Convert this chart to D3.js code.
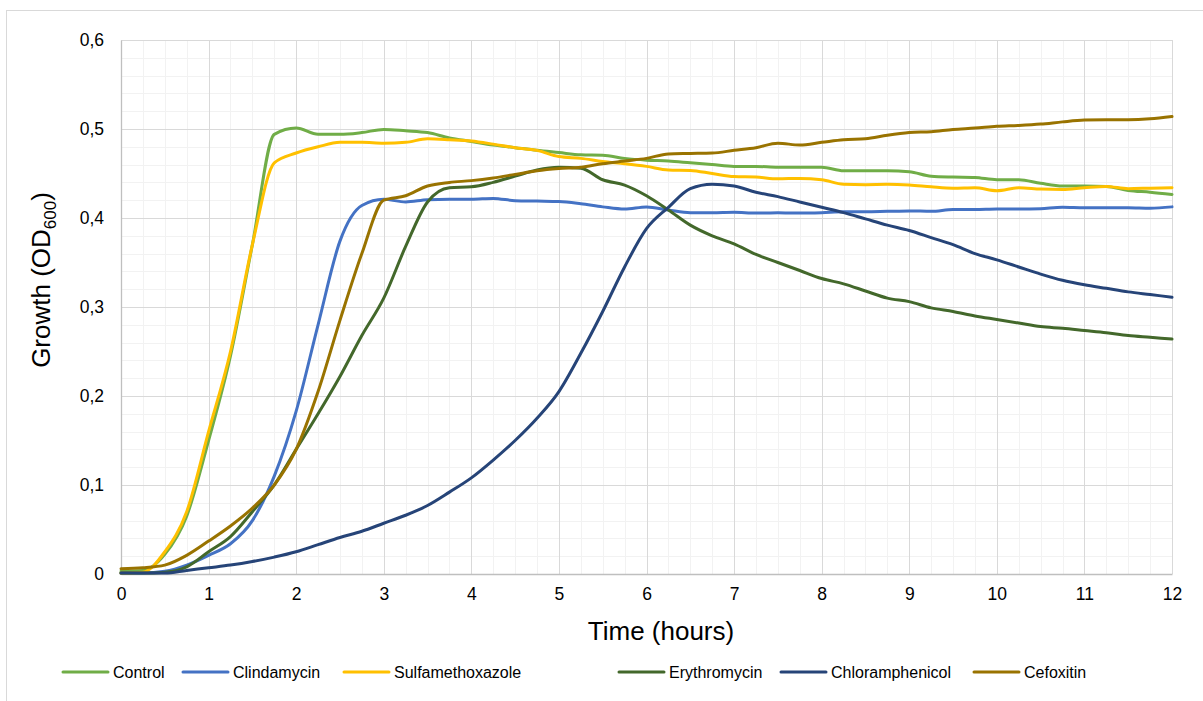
<!DOCTYPE html>
<html>
<head>
<meta charset="utf-8">
<script src="https://cdn.jsdelivr.net/npm/d3@7"></script>
<style>
  html, body { margin: 0; padding: 0; background: #fff; }
  svg { display: block; font-family: "Liberation Sans", Arial, sans-serif; }
</style>
</head>
<body>
<svg id="chart" width="1203" height="701"></svg>
<script>
// Sampling times (hours)
const timeHours = [0, 0.25, 0.5, 0.75, 1, 1.25, 1.5, 1.75, 2, 2.25, 2.5, 2.75, 3, 3.25, 3.5, 3.75,
  4, 4.25, 4.5, 4.75, 5, 5.25, 5.5, 5.75, 6, 6.25, 6.5, 6.75, 7, 7.25, 7.5, 7.75,
  8, 8.25, 8.5, 8.75, 9, 9.25, 9.5, 9.75, 10, 10.25, 10.5, 10.75, 11, 11.25, 11.5, 11.75, 12];

// OD600 readings per treatment
const control = [0.003, 0.004, 0.022, 0.065, 0.15, 0.245, 0.37, 0.494, 0.501, 0.494, 0.494, 0.496, 0.4995, 0.498, 0.496, 0.49,
  0.486, 0.482, 0.479, 0.476, 0.4735, 0.471, 0.4705, 0.467, 0.465, 0.464, 0.462, 0.46, 0.458, 0.458, 0.457, 0.457,
  0.457, 0.453, 0.453, 0.453, 0.452, 0.447, 0.446, 0.4455, 0.443, 0.443, 0.439, 0.436, 0.436, 0.4355, 0.431, 0.429, 0.4265];
const clindamycin = [0.001, 0.001, 0.003, 0.01, 0.021, 0.034, 0.06, 0.11, 0.183, 0.28, 0.374, 0.414, 0.421, 0.418, 0.4205, 0.421,
  0.421, 0.422, 0.4195, 0.419, 0.4185, 0.416, 0.4125, 0.41, 0.4125, 0.409, 0.406, 0.406, 0.4065, 0.4055, 0.406, 0.4055,
  0.406, 0.407, 0.407, 0.4075, 0.408, 0.4075, 0.4095, 0.4095, 0.41, 0.41, 0.4105, 0.412, 0.4115, 0.4115, 0.4115, 0.411, 0.4125];
const sulfamethoxazole = [0.001, 0.002, 0.025, 0.07, 0.16, 0.25, 0.37, 0.462, 0.473, 0.48, 0.485, 0.485, 0.484, 0.485, 0.489, 0.488,
  0.4865, 0.483, 0.479, 0.476, 0.469, 0.467, 0.4635, 0.461, 0.458, 0.454, 0.4535, 0.45, 0.4465, 0.446, 0.444, 0.4445,
  0.443, 0.438, 0.4375, 0.4378, 0.437, 0.435, 0.4335, 0.434, 0.4307, 0.434, 0.4325, 0.432, 0.434, 0.4355, 0.433, 0.4335, 0.434];
const erythromycin = [0.001, 0.001, 0.002, 0.008, 0.025, 0.042, 0.07, 0.1, 0.14, 0.18, 0.222, 0.268, 0.31, 0.368, 0.418, 0.434,
  0.435, 0.44, 0.447, 0.454, 0.457, 0.456, 0.443, 0.437, 0.425, 0.409, 0.392, 0.38, 0.371, 0.359, 0.35, 0.341,
  0.332, 0.326, 0.318, 0.31, 0.306, 0.299, 0.295, 0.29, 0.286, 0.282, 0.278, 0.276, 0.2735, 0.271, 0.268, 0.266, 0.264];
const chloramphenicol = [0.001, 0.001, 0.001, 0.004, 0.007, 0.01, 0.014, 0.019, 0.025, 0.033, 0.041, 0.048, 0.057, 0.066, 0.077, 0.092,
  0.108, 0.128, 0.15, 0.175, 0.205, 0.248, 0.295, 0.345, 0.388, 0.412, 0.433, 0.438, 0.436, 0.429, 0.424, 0.418,
  0.412, 0.406, 0.399, 0.392, 0.386, 0.378, 0.37, 0.36, 0.353, 0.345, 0.337, 0.33, 0.325, 0.321, 0.317, 0.314, 0.311];
const cefoxitin = [0.006, 0.007, 0.01, 0.021, 0.037, 0.054, 0.074, 0.1, 0.14, 0.205, 0.285, 0.36, 0.42, 0.425, 0.436, 0.44,
  0.442, 0.445, 0.449, 0.453, 0.4555, 0.457, 0.461, 0.464, 0.467, 0.472, 0.4725, 0.473, 0.476, 0.479, 0.484, 0.482,
  0.485, 0.488, 0.489, 0.493, 0.496, 0.497, 0.4995, 0.501, 0.503, 0.504, 0.5055, 0.508, 0.51, 0.5105, 0.5105, 0.5115, 0.514];

const seriesNames = ["Control", "Clindamycin", "Sulfamethoxazole", "Erythromycin", "Chloramphenicol", "Cefoxitin"];
const seriesValues = [control, clindamycin, sulfamethoxazole, erythromycin, chloramphenicol, cefoxitin];
const seriesColors = ["#70AD47", "#4472C4", "#FFC000", "#43682B", "#264478", "#997300"];

const xTicks = [0, 1, 2, 3, 4, 5, 6, 7, 8, 9, 10, 11, 12];
const yTicks = [0, 0.1, 0.2, 0.3, 0.4, 0.5, 0.6];

const svg = d3.select("#chart");
const plot = { left: 121, right: 1172, top: 40, bottom: 574 };

const x = d3.scaleLinear().domain([0, 12]).range([plot.left, plot.right]);
const y = d3.scaleLinear().domain([0, 0.6]).range([plot.bottom, plot.top]);

// Chart frame
svg.append("rect")
  .attr("x", 6.5).attr("y", 10.5).attr("width", 1210).attr("height", 710)
  .attr("fill", "#fff").attr("stroke", "#D9D9D9").attr("stroke-width", 1);

const grid = svg.append("g");
// Minor gridlines: every 0.25 h and every 0.02 OD
const minorX = d3.range(0, 12.001, 0.25).filter(v => Math.abs(v - Math.round(v)) > 1e-6);
const minorY = d3.range(0, 0.6001, 0.02).filter(v => Math.abs(v * 10 - Math.round(v * 10)) > 1e-6);
grid.selectAll(".mx").data(minorX).enter().append("line")
  .attr("x1", d => Math.round(x(d)) + 0.5).attr("x2", d => Math.round(x(d)) + 0.5)
  .attr("y1", plot.top).attr("y2", plot.bottom)
  .attr("stroke", "#F2F2F2").attr("stroke-width", 1);
grid.selectAll(".my").data(minorY).enter().append("line")
  .attr("x1", plot.left).attr("x2", plot.right)
  .attr("y1", d => Math.round(y(d)) + 0.5).attr("y2", d => Math.round(y(d)) + 0.5)
  .attr("stroke", "#F2F2F2").attr("stroke-width", 1);
// Major gridlines
grid.selectAll(".Mx").data(xTicks).enter().append("line")
  .attr("x1", d => Math.round(x(d)) + 0.5).attr("x2", d => Math.round(x(d)) + 0.5)
  .attr("y1", plot.top).attr("y2", plot.bottom)
  .attr("stroke", "#D9D9D9").attr("stroke-width", 1);
grid.selectAll(".My").data(yTicks).enter().append("line")
  .attr("x1", plot.left).attr("x2", plot.right)
  .attr("y1", d => Math.round(y(d)) + 0.5).attr("y2", d => Math.round(y(d)) + 0.5)
  .attr("stroke", "#D9D9D9").attr("stroke-width", 1);

// Axes
const fmt = d => String(d).replace(".", ",");
const xAxis = svg.append("g").attr("transform", `translate(0,${plot.bottom})`)
  .call(d3.axisBottom(x).tickValues(xTicks).tickSize(0).tickPadding(14).tickFormat(fmt));
const yAxis = svg.append("g").attr("transform", `translate(${plot.left},0)`)
  .call(d3.axisLeft(y).tickValues(yTicks).tickSize(0).tickPadding(17).tickFormat(fmt));
[xAxis, yAxis].forEach(a => {
  a.select(".domain").attr("stroke", "#BFBFBF").attr("stroke-width", 1.3);
  a.selectAll("text").attr("fill", "#000").style("font-size", "17.5px")
    .style("font-family", '"Liberation Sans", Arial, sans-serif');
});

// Series lines
const line = d3.line()
  .x((d, i) => x(timeHours[i]))
  .y(d => y(d))
  .curve(d3.curveMonotoneX);
svg.append("g").selectAll("path").data(seriesValues).enter().append("path")
  .attr("d", d => line(d))
  .attr("fill", "none")
  .attr("stroke", (d, i) => seriesColors[i])
  .attr("stroke-width", 3)
  .attr("stroke-linejoin", "round")
  .attr("stroke-linecap", "round");

// Axis titles
svg.append("text")
  .attr("x", 661).attr("y", 640).attr("text-anchor", "middle")
  .style("font-size", "26px").attr("fill", "#000")
  .text("Time (hours)");
const yTitle = svg.append("text")
  .attr("transform", "translate(50,280) rotate(-90)")
  .attr("text-anchor", "middle")
  .style("font-size", "26px").attr("fill", "#000");
yTitle.append("tspan").text("Growth (OD");
yTitle.append("tspan").attr("dy", 6).style("font-size", "17px").text("600");
yTitle.append("tspan").attr("dy", -6).text(")");

// Legend
const legendX = [62, 182, 343, 618, 780, 973];
const legend = svg.append("g");
seriesNames.forEach((name, i) => {
  const g = legend.append("g").attr("transform", `translate(${legendX[i]},672)`);
  g.append("line").attr("x1", 1).attr("x2", 46).attr("y1", 0).attr("y2", 0)
    .attr("stroke", seriesColors[i]).attr("stroke-width", 3).attr("stroke-linecap", "round");
  g.append("text").attr("x", 51).attr("y", 6).style("font-size", "16px").attr("fill", "#000").text(name);
});
</script>
</body>
</html>
